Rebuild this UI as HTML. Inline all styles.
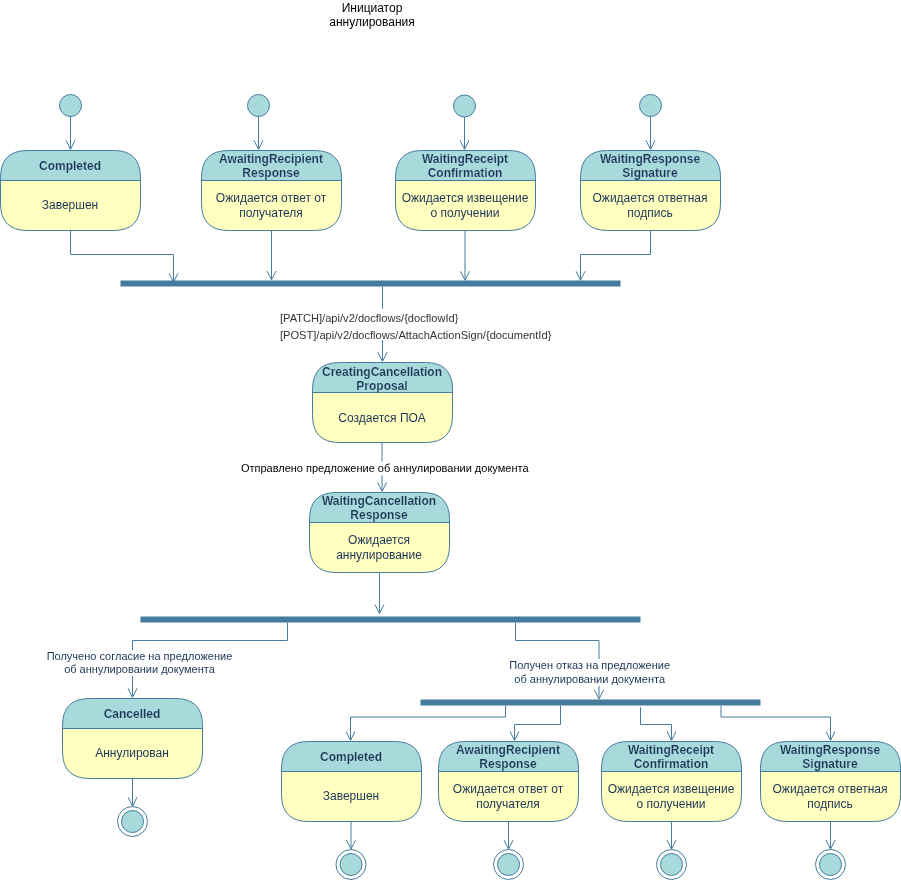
<!DOCTYPE html>
<html><head><meta charset="utf-8"><title>diagram</title>
<style>
html,body{margin:0;padding:0;background:#fff;width:901px;height:880px;overflow:hidden;}
svg{display:block;will-change:transform;}
text{font-family:"Liberation Sans",sans-serif;}
.t{font-size:12px;font-weight:bold;fill:#1D3557;text-anchor:middle;stroke:#A8DADC;stroke-width:0.15px;paint-order:fill;}
.b{font-size:12px;fill:#1D3557;text-anchor:middle;}
.h{font-size:12px;fill:#000;text-anchor:middle;}
.l{font-size:11.1px;fill:#333333;}
.k{font-size:11px;fill:#000000;text-anchor:middle;}
.n{font-size:11px;fill:#1D3557;text-anchor:middle;}
</style></head>
<body><svg width="901" height="880" viewBox="0 0 901 880">
<text x="372" y="11.6" class="h">Инициатор</text>
<text x="372" y="26.2" class="h">аннулирования</text>
<circle cx="70.5" cy="105.5" r="11" fill="#A8DADC" stroke="#457B9D"/>
<path d="M70.50 116.50 L70.50 148.26" fill="none" stroke="#457B9D"/>
<path d="M66.00 140.38 L70.50 149.38 L75.00 140.38" fill="none" stroke="#457B9D"/>
<circle cx="258.5" cy="105.5" r="11" fill="#A8DADC" stroke="#457B9D"/>
<path d="M258.50 116.50 L258.50 148.26" fill="none" stroke="#457B9D"/>
<path d="M254.00 140.38 L258.50 149.38 L263.00 140.38" fill="none" stroke="#457B9D"/>
<circle cx="464.5" cy="106" r="11" fill="#A8DADC" stroke="#457B9D"/>
<path d="M464.50 117.00 L464.50 148.26" fill="none" stroke="#457B9D"/>
<path d="M460.00 140.38 L464.50 149.38 L469.00 140.38" fill="none" stroke="#457B9D"/>
<circle cx="650.5" cy="105.5" r="11" fill="#A8DADC" stroke="#457B9D"/>
<path d="M650.50 116.50 L650.50 148.26" fill="none" stroke="#457B9D"/>
<path d="M646.00 140.38 L650.50 149.38 L655.00 140.38" fill="none" stroke="#457B9D"/>
<path d="M140.5 180.5 L140.5 203.5 Q140.5 230.5 113.5 230.5 L27.5 230.5 Q0.5 230.5 0.5 203.5 L0.5 180.5 Z" fill="#FFFFC0"/>
<path d="M140.5 180.5 L140.5 177.5 Q140.5 150.5 113.5 150.5 L27.5 150.5 Q0.5 150.5 0.5 177.5 L0.5 180.5 Z" fill="#A8DADC" stroke="#457B9D"/>
<path d="M0.5 180.5 L0.5 203.5 Q0.5 230.5 27.5 230.5 L113.5 230.5 Q140.5 230.5 140.5 203.5 L140.5 180.5" fill="none" stroke="#457B9D"/>
<path d="M0.5 180.5 L140.5 180.5" stroke="#457B9D"/>
<text x="70.0" y="169.80" class="t">Completed</text>
<text x="70.0" y="209.00" class="b">Завершен</text>
<path d="M341.5 180.5 L341.5 203.5 Q341.5 230.5 314.5 230.5 L228.5 230.5 Q201.5 230.5 201.5 203.5 L201.5 180.5 Z" fill="#FFFFC0"/>
<path d="M341.5 180.5 L341.5 177.5 Q341.5 150.5 314.5 150.5 L228.5 150.5 Q201.5 150.5 201.5 177.5 L201.5 180.5 Z" fill="#A8DADC" stroke="#457B9D"/>
<path d="M201.5 180.5 L201.5 203.5 Q201.5 230.5 228.5 230.5 L314.5 230.5 Q341.5 230.5 341.5 203.5 L341.5 180.5" fill="none" stroke="#457B9D"/>
<path d="M201.5 180.5 L341.5 180.5" stroke="#457B9D"/>
<text x="271.0" y="163.10" class="t">AwaitingRecipient</text>
<text x="271.0" y="177.10" class="t">Response</text>
<text x="271.0" y="202.00" class="b">Ожидается ответ от</text>
<text x="271.0" y="216.50" class="b">получателя</text>
<path d="M535.5 180.5 L535.5 203.5 Q535.5 230.5 508.5 230.5 L422.5 230.5 Q395.5 230.5 395.5 203.5 L395.5 180.5 Z" fill="#FFFFC0"/>
<path d="M535.5 180.5 L535.5 177.5 Q535.5 150.5 508.5 150.5 L422.5 150.5 Q395.5 150.5 395.5 177.5 L395.5 180.5 Z" fill="#A8DADC" stroke="#457B9D"/>
<path d="M395.5 180.5 L395.5 203.5 Q395.5 230.5 422.5 230.5 L508.5 230.5 Q535.5 230.5 535.5 203.5 L535.5 180.5" fill="none" stroke="#457B9D"/>
<path d="M395.5 180.5 L535.5 180.5" stroke="#457B9D"/>
<text x="465.0" y="163.10" class="t">WaitingReceipt</text>
<text x="465.0" y="177.10" class="t">Confirmation</text>
<text x="465.0" y="202.00" class="b">Ожидается извещение</text>
<text x="465.0" y="216.50" class="b">о получении</text>
<path d="M720.5 180.5 L720.5 203.5 Q720.5 230.5 693.5 230.5 L607.5 230.5 Q580.5 230.5 580.5 203.5 L580.5 180.5 Z" fill="#FFFFC0"/>
<path d="M720.5 180.5 L720.5 177.5 Q720.5 150.5 693.5 150.5 L607.5 150.5 Q580.5 150.5 580.5 177.5 L580.5 180.5 Z" fill="#A8DADC" stroke="#457B9D"/>
<path d="M580.5 180.5 L580.5 203.5 Q580.5 230.5 607.5 230.5 L693.5 230.5 Q720.5 230.5 720.5 203.5 L720.5 180.5" fill="none" stroke="#457B9D"/>
<path d="M580.5 180.5 L720.5 180.5" stroke="#457B9D"/>
<text x="650.0" y="163.10" class="t">WaitingResponse</text>
<text x="650.0" y="177.10" class="t">Signature</text>
<text x="650.0" y="202.00" class="b">Ожидается ответная</text>
<text x="650.0" y="216.50" class="b">подпись</text>
<path d="M70.50 230.50 L70.50 254.50 L173.50 254.50 L173.50 281.06" fill="none" stroke="#457B9D"/>
<path d="M169.00 273.18 L173.50 282.18 L178.00 273.18" fill="none" stroke="#457B9D"/>
<path d="M271.50 230.50 L271.50 278.86" fill="none" stroke="#457B9D"/>
<path d="M267.00 270.98 L271.50 279.98 L276.00 270.98" fill="none" stroke="#457B9D"/>
<path d="M465.00 230.50 L465.00 279.16" fill="none" stroke="#457B9D"/>
<path d="M460.50 271.28 L465.00 280.28 L469.50 271.28" fill="none" stroke="#457B9D"/>
<path d="M650.50 230.50 L650.50 254.50 L580.50 254.50 L580.50 279.16" fill="none" stroke="#457B9D"/>
<path d="M576.00 271.28 L580.50 280.28 L585.00 271.28" fill="none" stroke="#457B9D"/>
<path d="M120.5 283.5 L620.5 283.5" stroke="#457B9D" stroke-width="6"/>
<path d="M382.50 286.50 L382.50 308.70" fill="none" stroke="#457B9D"/>
<path d="M382.50 340.00 L382.50 360.26" fill="none" stroke="#457B9D"/>
<path d="M378.00 352.38 L382.50 361.38 L387.00 352.38" fill="none" stroke="#457B9D"/>
<text x="280" y="322" class="l">[PATCH]/api/v2/docflows/{docflowId}</text>
<text x="280" y="338.7" class="l">[POST]/api/v2/docflows/AttachActionSign/{documentId}</text>
<path d="M452.5 392.5 L452.5 415.5 Q452.5 442.5 425.5 442.5 L339.5 442.5 Q312.5 442.5 312.5 415.5 L312.5 392.5 Z" fill="#FFFFC0"/>
<path d="M452.5 392.5 L452.5 389.5 Q452.5 362.5 425.5 362.5 L339.5 362.5 Q312.5 362.5 312.5 389.5 L312.5 392.5 Z" fill="#A8DADC" stroke="#457B9D"/>
<path d="M312.5 392.5 L312.5 415.5 Q312.5 442.5 339.5 442.5 L425.5 442.5 Q452.5 442.5 452.5 415.5 L452.5 392.5" fill="none" stroke="#457B9D"/>
<path d="M312.5 392.5 L452.5 392.5" stroke="#457B9D"/>
<text x="382.0" y="376.10" class="t">CreatingCancellation</text>
<text x="382.0" y="390.10" class="t">Proposal</text>
<text x="382.0" y="422.00" class="b">Создается ПОА</text>
<path d="M382.00 442.50 L382.00 461.60" fill="none" stroke="#457B9D"/>
<path d="M382.00 475.30 L382.00 490.26" fill="none" stroke="#457B9D"/>
<path d="M377.50 482.38 L382.00 491.38 L386.50 482.38" fill="none" stroke="#457B9D"/>
<text x="384.7" y="471.8" class="k">Отправлено предложение об аннулировании документа</text>
<path d="M449.5 522.5 L449.5 545.5 Q449.5 572.5 422.5 572.5 L336.5 572.5 Q309.5 572.5 309.5 545.5 L309.5 522.5 Z" fill="#FFFFC0"/>
<path d="M449.5 522.5 L449.5 519.5 Q449.5 492.5 422.5 492.5 L336.5 492.5 Q309.5 492.5 309.5 519.5 L309.5 522.5 Z" fill="#A8DADC" stroke="#457B9D"/>
<path d="M309.5 522.5 L309.5 545.5 Q309.5 572.5 336.5 572.5 L422.5 572.5 Q449.5 572.5 449.5 545.5 L449.5 522.5" fill="none" stroke="#457B9D"/>
<path d="M309.5 522.5 L449.5 522.5" stroke="#457B9D"/>
<text x="379.0" y="505.10" class="t">WaitingCancellation</text>
<text x="379.0" y="519.10" class="t">Response</text>
<text x="379.0" y="544.00" class="b">Ожидается</text>
<text x="379.0" y="558.50" class="b">аннулирование</text>
<path d="M379.50 572.50 L379.50 612.46" fill="none" stroke="#457B9D"/>
<path d="M375.00 604.58 L379.50 613.58 L384.00 604.58" fill="none" stroke="#457B9D"/>
<path d="M140.5 619.5 L640.5 619.5" stroke="#457B9D" stroke-width="6"/>
<path d="M287.50 622.50 L287.50 640.50 L132.50 640.50 L132.50 650.00" fill="none" stroke="#457B9D"/>
<path d="M132.50 676.00 L132.50 696.26" fill="none" stroke="#457B9D"/>
<path d="M128.00 688.38 L132.50 697.38 L137.00 688.38" fill="none" stroke="#457B9D"/>
<text x="139.5" y="659.7" class="n">Получено согласие на предложение</text>
<text x="139.5" y="672.9" class="n">об аннулировании документа</text>
<path d="M202.5 728.5 L202.5 751.5 Q202.5 778.5 175.5 778.5 L89.5 778.5 Q62.5 778.5 62.5 751.5 L62.5 728.5 Z" fill="#FFFFC0"/>
<path d="M202.5 728.5 L202.5 725.5 Q202.5 698.5 175.5 698.5 L89.5 698.5 Q62.5 698.5 62.5 725.5 L62.5 728.5 Z" fill="#A8DADC" stroke="#457B9D"/>
<path d="M62.5 728.5 L62.5 751.5 Q62.5 778.5 89.5 778.5 L175.5 778.5 Q202.5 778.5 202.5 751.5 L202.5 728.5" fill="none" stroke="#457B9D"/>
<path d="M62.5 728.5 L202.5 728.5" stroke="#457B9D"/>
<text x="132.0" y="717.80" class="t">Cancelled</text>
<text x="132.0" y="757.00" class="b">Аннулирован</text>
<path d="M132.50 778.50 L132.50 805.06" fill="none" stroke="#457B9D"/>
<path d="M128.00 797.18 L132.50 806.18 L137.00 797.18" fill="none" stroke="#457B9D"/>
<circle cx="132.5" cy="821.5" r="15" fill="none" stroke="#457B9D"/><circle cx="132.5" cy="821.5" r="11" fill="#A8DADC" stroke="#457B9D"/>
<path d="M515.50 622.50 L515.50 640.50 L599.00 640.50 L599.00 659.00" fill="none" stroke="#457B9D"/>
<path d="M599.00 686.00 L599.00 697.96" fill="none" stroke="#457B9D"/>
<path d="M594.50 690.08 L599.00 699.08 L603.50 690.08" fill="none" stroke="#457B9D"/>
<text x="589.7" y="669.3" class="n">Получен отказ на предложение</text>
<text x="589.7" y="682.8" class="n">об аннулировании документа</text>
<path d="M420.5 702.5 L760.5 702.5" stroke="#457B9D" stroke-width="6"/>
<path d="M505.50 705.50 L505.50 717.00 L350.50 717.00 L350.50 739.26" fill="none" stroke="#457B9D"/>
<path d="M346.00 731.38 L350.50 740.38 L355.00 731.38" fill="none" stroke="#457B9D"/>
<path d="M560.50 705.50 L560.50 724.50 L514.50 724.50 L514.50 739.26" fill="none" stroke="#457B9D"/>
<path d="M510.00 731.38 L514.50 740.38 L519.00 731.38" fill="none" stroke="#457B9D"/>
<path d="M640.50 707.20 L640.50 724.50 L671.50 724.50 L671.50 739.26" fill="none" stroke="#457B9D"/>
<path d="M667.00 731.38 L671.50 740.38 L676.00 731.38" fill="none" stroke="#457B9D"/>
<path d="M721.00 705.50 L721.00 717.00 L830.50 717.00 L830.50 739.26" fill="none" stroke="#457B9D"/>
<path d="M826.00 731.38 L830.50 740.38 L835.00 731.38" fill="none" stroke="#457B9D"/>
<path d="M421.5 771.5 L421.5 794.5 Q421.5 821.5 394.5 821.5 L308.5 821.5 Q281.5 821.5 281.5 794.5 L281.5 771.5 Z" fill="#FFFFC0"/>
<path d="M421.5 771.5 L421.5 768.5 Q421.5 741.5 394.5 741.5 L308.5 741.5 Q281.5 741.5 281.5 768.5 L281.5 771.5 Z" fill="#A8DADC" stroke="#457B9D"/>
<path d="M281.5 771.5 L281.5 794.5 Q281.5 821.5 308.5 821.5 L394.5 821.5 Q421.5 821.5 421.5 794.5 L421.5 771.5" fill="none" stroke="#457B9D"/>
<path d="M281.5 771.5 L421.5 771.5" stroke="#457B9D"/>
<text x="351.0" y="760.80" class="t">Completed</text>
<text x="351.0" y="800.00" class="b">Завершен</text>
<path d="M578.5 771.5 L578.5 794.5 Q578.5 821.5 551.5 821.5 L465.5 821.5 Q438.5 821.5 438.5 794.5 L438.5 771.5 Z" fill="#FFFFC0"/>
<path d="M578.5 771.5 L578.5 768.5 Q578.5 741.5 551.5 741.5 L465.5 741.5 Q438.5 741.5 438.5 768.5 L438.5 771.5 Z" fill="#A8DADC" stroke="#457B9D"/>
<path d="M438.5 771.5 L438.5 794.5 Q438.5 821.5 465.5 821.5 L551.5 821.5 Q578.5 821.5 578.5 794.5 L578.5 771.5" fill="none" stroke="#457B9D"/>
<path d="M438.5 771.5 L578.5 771.5" stroke="#457B9D"/>
<text x="508.0" y="754.10" class="t">AwaitingRecipient</text>
<text x="508.0" y="768.10" class="t">Response</text>
<text x="508.0" y="793.00" class="b">Ожидается ответ от</text>
<text x="508.0" y="807.50" class="b">получателя</text>
<path d="M741.5 771.5 L741.5 794.5 Q741.5 821.5 714.5 821.5 L628.5 821.5 Q601.5 821.5 601.5 794.5 L601.5 771.5 Z" fill="#FFFFC0"/>
<path d="M741.5 771.5 L741.5 768.5 Q741.5 741.5 714.5 741.5 L628.5 741.5 Q601.5 741.5 601.5 768.5 L601.5 771.5 Z" fill="#A8DADC" stroke="#457B9D"/>
<path d="M601.5 771.5 L601.5 794.5 Q601.5 821.5 628.5 821.5 L714.5 821.5 Q741.5 821.5 741.5 794.5 L741.5 771.5" fill="none" stroke="#457B9D"/>
<path d="M601.5 771.5 L741.5 771.5" stroke="#457B9D"/>
<text x="671.0" y="754.10" class="t">WaitingReceipt</text>
<text x="671.0" y="768.10" class="t">Confirmation</text>
<text x="671.0" y="793.00" class="b">Ожидается извещение</text>
<text x="671.0" y="807.50" class="b">о получении</text>
<path d="M900.5 771.5 L900.5 794.5 Q900.5 821.5 873.5 821.5 L787.5 821.5 Q760.5 821.5 760.5 794.5 L760.5 771.5 Z" fill="#FFFFC0"/>
<path d="M900.5 771.5 L900.5 768.5 Q900.5 741.5 873.5 741.5 L787.5 741.5 Q760.5 741.5 760.5 768.5 L760.5 771.5 Z" fill="#A8DADC" stroke="#457B9D"/>
<path d="M760.5 771.5 L760.5 794.5 Q760.5 821.5 787.5 821.5 L873.5 821.5 Q900.5 821.5 900.5 794.5 L900.5 771.5" fill="none" stroke="#457B9D"/>
<path d="M760.5 771.5 L900.5 771.5" stroke="#457B9D"/>
<text x="830.0" y="754.10" class="t">WaitingResponse</text>
<text x="830.0" y="768.10" class="t">Signature</text>
<text x="830.0" y="793.00" class="b">Ожидается ответная</text>
<text x="830.0" y="807.50" class="b">подпись</text>
<path d="M351.00 821.50 L351.00 848.06" fill="none" stroke="#457B9D"/>
<path d="M346.50 840.18 L351.00 849.18 L355.50 840.18" fill="none" stroke="#457B9D"/>
<circle cx="351" cy="864.5" r="15" fill="none" stroke="#457B9D"/><circle cx="351" cy="864.5" r="11" fill="#A8DADC" stroke="#457B9D"/>
<path d="M508.50 821.50 L508.50 848.06" fill="none" stroke="#457B9D"/>
<path d="M504.00 840.18 L508.50 849.18 L513.00 840.18" fill="none" stroke="#457B9D"/>
<circle cx="508.5" cy="864.5" r="15" fill="none" stroke="#457B9D"/><circle cx="508.5" cy="864.5" r="11" fill="#A8DADC" stroke="#457B9D"/>
<path d="M671.50 821.50 L671.50 848.06" fill="none" stroke="#457B9D"/>
<path d="M667.00 840.18 L671.50 849.18 L676.00 840.18" fill="none" stroke="#457B9D"/>
<circle cx="671.5" cy="864.5" r="15" fill="none" stroke="#457B9D"/><circle cx="671.5" cy="864.5" r="11" fill="#A8DADC" stroke="#457B9D"/>
<path d="M830.50 821.50 L830.50 848.06" fill="none" stroke="#457B9D"/>
<path d="M826.00 840.18 L830.50 849.18 L835.00 840.18" fill="none" stroke="#457B9D"/>
<circle cx="830.5" cy="864.5" r="15" fill="none" stroke="#457B9D"/><circle cx="830.5" cy="864.5" r="11" fill="#A8DADC" stroke="#457B9D"/>
</svg></body></html>
